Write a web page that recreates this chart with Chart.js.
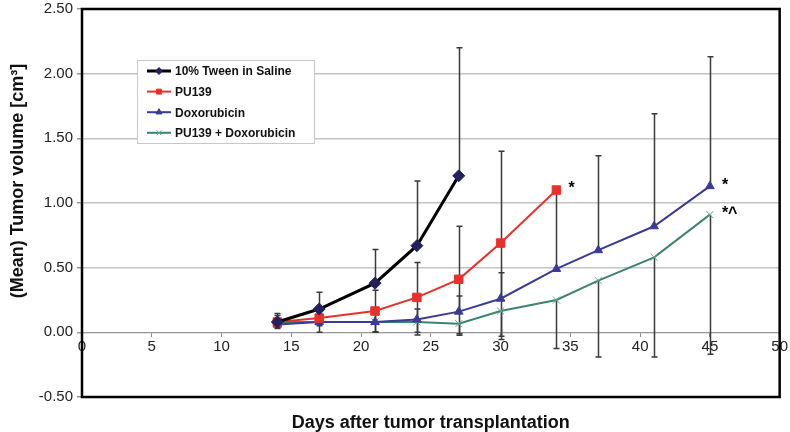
<!DOCTYPE html>
<html><head><meta charset="utf-8">
<script src="https://cdn.jsdelivr.net/npm/chart.js@4/dist/chart.umd.min.js"></script>
<style>html,body{margin:0;padding:0;background:#fff;}</style>
</head><body>
<canvas id="c" width="790" height="432"></canvas>
<script>
// ---- data ----
const seriesNames = ['10% Tween in Saline', 'PU139', 'Doxorubicin', 'PU139 + Doxorubicin'];
const tweenDays = [14, 17, 21, 24, 27];
const tweenMean = [0.08, 0.18, 0.38, 0.67, 1.21];
const tweenErrUp  = [0.065, 0.13, 0.26, 0.50, 0.99];
const tweenErrDn  = [null, null, null, null, null];
const pu139Days = [14, 17, 21, 24, 27, 30, 34];
const pu139Mean = [0.08, 0.11, 0.165, 0.27, 0.41, 0.69, 1.10];
const pu139ErrUp  = [0.05, 0.06, 0.16, 0.27, 0.41, 0.71, null];
const pu139ErrDn  = [0.05, 0.06, 0.16, 0.27, 0.42, 0.72, null];
const doxDays = [14, 17, 21, 24, 27, 30, 34, 37, 41, 45];
const doxMean = [0.06, 0.08, 0.08, 0.10, 0.16, 0.26, 0.49, 0.635, 0.82, 1.13];
const doxErrUp  = [0.04, 0.06, 0.07, 0.08, 0.12, 0.20, 0.61, 0.73, 0.87, 1.00];
const doxErrDn  = [null, null, null, null, null, null, null, null, null, null];
const comboDays = [14, 17, 21, 24, 27, 30, 34, 37, 41, 45];
const comboMean = [0.08, 0.08, 0.08, 0.08, 0.067, 0.165, 0.25, 0.40, 0.58, 0.91];
const comboErrUp  = [null, null, null, null, null, null, null, null, null, null];
const comboErrDn  = [0.04, 0.08, 0.08, 0.10, 0.09, 0.22, 0.375, 0.59, 0.77, 1.08];
const xTicks = [0, 5, 10, 15, 20, 25, 30, 35, 40, 45, 50];
const yTicks = [-0.5, 0, 0.5, 1.0, 1.5, 2.0, 2.5];
const markTexts = [{series: 1, index: 6, text: '*'}, {series: 2, index: 9, text: '*'}, {series: 3, index: 9, text: '*^'}];
const xTitle = 'Days after tumor transplantation';
const yTitle = '(Mean) Tumor volume [cm\u00B3]';

const SANS = "'Liberation Sans', Arial, sans-serif";

const pts = (xs, ys) => xs.map((d, i) => ({x: d, y: ys[i]}));

const datasets = [
  {label: seriesNames[0], data: pts(tweenDays, tweenMean), errUp: tweenErrUp, errDn: tweenErrDn,
   borderColor: '#000000', borderWidth: 3, pointStyle: 'rectRot', pointRadius: 6,
   pointBackgroundColor: '#23205e', pointBorderColor: '#23205e', pointBorderWidth: 1},
  {label: seriesNames[1], data: pts(pu139Days, pu139Mean), errUp: pu139ErrUp, errDn: pu139ErrDn,
   borderColor: '#e8312a', borderWidth: 2, pointStyle: 'rect', pointRadius: 6,
   pointBackgroundColor: '#e8312a', pointBorderColor: '#e8312a', pointBorderWidth: 1},
  {label: seriesNames[2], data: pts(doxDays, doxMean), errUp: doxErrUp, errDn: doxErrDn,
   borderColor: '#3b3a98', borderWidth: 2, pointStyle: 'triangle', pointRadius: 5,
   pointBackgroundColor: '#3b3a98', pointBorderColor: '#3b3a98', pointBorderWidth: 1},
  {label: seriesNames[3], data: pts(comboDays, comboMean), errUp: comboErrUp, errDn: comboErrDn,
   borderColor: '#3c8472', borderWidth: 2, pointStyle: 'crossRot', pointRadius: 5,
   pointBackgroundColor: '#3c8472', pointBorderColor: '#5fa898', pointBorderWidth: 1}
];

const errorBars = {
  id: 'errorBars',
  beforeDatasetsDraw(chart) {
    const {ctx, scales: {x, y}} = chart;
    ctx.save();
    ctx.strokeStyle = '#3a3a3a';
    ctx.lineWidth = 1.5;
    chart.data.datasets.forEach(ds => {
      ds.data.forEach((p, i) => {
        const px = Math.round(x.getPixelForValue(p.x)) + 0.5;
        const c = y.getPixelForValue(p.y);
        [[ds.errUp[i], 1], [ds.errDn[i], -1]].forEach(([e, s]) => {
          if (e == null) return;
          const t = y.getPixelForValue(p.y + s * e);
          ctx.beginPath();
          ctx.moveTo(px, c); ctx.lineTo(px, t);
          ctx.moveTo(px - 3, t); ctx.lineTo(px + 3, t);
          ctx.stroke();
        });
      });
    });
    ctx.restore();
  }
};

const frameAndText = {
  id: 'frameAndText',
  afterDatasetsDraw(chart) {
    const {ctx, chartArea: a, scales: {x, y}} = chart;
    ctx.save();
    // frame
    ctx.strokeStyle = '#000';
    ctx.lineWidth = 2.5;
    ctx.strokeRect(a.left, a.top, a.right - a.left, a.bottom - a.top);
    // significance marks
    ctx.fillStyle = '#000';
    ctx.font = 'bold 16px ' + SANS;
    ctx.textBaseline = 'middle';
    markTexts.forEach(m => {
      const p = chart.data.datasets[m.series].data[m.index];
      ctx.fillText(m.text, x.getPixelForValue(p.x) + 12, y.getPixelForValue(p.y) - 1);
    });
    // legend
    const lx = a.left + 55, ly = a.top + 51, lw = 177, lh = 83;
    ctx.fillStyle = '#fff';
    ctx.fillRect(lx, ly, lw, lh);
    ctx.strokeStyle = '#c8c8c8';
    ctx.lineWidth = 1;
    ctx.strokeRect(lx + 0.5, ly + 0.5, lw, lh);
    chart.data.datasets.forEach((ds, i) => {
      const ry = ly + 11 + i * 20.6;
      ctx.strokeStyle = ds.borderColor;
      ctx.lineWidth = ds.borderWidth;
      ctx.beginPath();
      ctx.moveTo(lx + 10, ry); ctx.lineTo(lx + 34, ry);
      ctx.stroke();
      ctx.fillStyle = ds.pointBackgroundColor;
      ctx.strokeStyle = ds.pointBorderColor;
      ctx.lineWidth = 1;
      Chart.helpers.drawPoint(ctx, {pointStyle: ds.pointStyle, radius: 3.5, borderWidth: 1}, lx + 22, ry);
      ctx.fillStyle = '#111';
      ctx.font = 'bold 12px ' + SANS;
      ctx.textBaseline = 'middle';
      ctx.fillText(ds.label, lx + 38, ry + 1);
    });
    // x title
    ctx.fillStyle = '#111';
    ctx.font = 'bold 18px ' + SANS;
    ctx.textAlign = 'center';
    ctx.textBaseline = 'middle';
    ctx.fillText(xTitle, (a.left + a.right) / 2, 423);
    // y title
    ctx.translate(18, 181);
    ctx.rotate(-Math.PI / 2);
    ctx.fillText(yTitle, 0, 0);
    ctx.restore();
  }
};

new Chart(document.getElementById('c'), {
  type: 'line',
  data: {datasets},
  plugins: [errorBars, frameAndText],
  options: {
    responsive: false, animation: false, devicePixelRatio: 1,
    layout: {padding: {left: 0, right: 10, top: 9, bottom: 35}},
    plugins: {legend: {display: false}, tooltip: {enabled: false}},
    scales: {
      x: {
        type: 'linear', min: 0, max: 50, position: {y: 0},
        afterBuildTicks: s => { s.ticks = xTicks.map(v => ({value: v})); },
        grid: {drawOnChartArea: false, drawTicks: true, tickLength: 4, color: '#888'},
        border: {color: '#999', width: 1},
        ticks: {color: '#222', font: {family: SANS, size: 15}, padding: 2, maxRotation: 0, autoSkip: false}
      },
      y: {
        type: 'linear', min: -0.5, max: 2.5,
        afterBuildTicks: s => { s.ticks = yTicks.map(v => ({value: v})); },
        afterFit: s => { s.width = 82; s.paddingTop = 0; s.paddingBottom = 0; },
        grid: {color: c => (c.tick && (c.tick.value === -0.5 || c.tick.value === 2.5)) ? 'rgba(0,0,0,0)' : '#c4c4c4',
               lineWidth: 1.5, tickLength: 5, tickColor: '#999'},
        border: {display: false},
        ticks: {color: '#222', font: {family: SANS, size: 15, lineHeight: 1}, padding: 4,
                callback: v => v.toFixed(2)},
        title: {display: false}
      }
    }
  }
});
</script>
</body></html>
